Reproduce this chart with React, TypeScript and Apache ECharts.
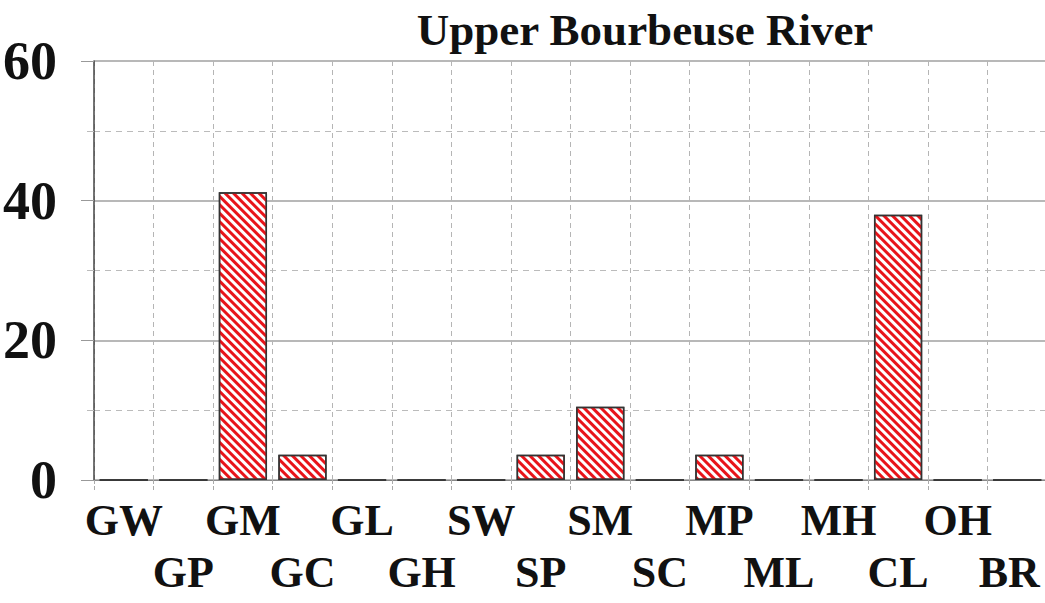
import React, { useEffect, useRef } from "react";
import * as echarts from "echarts";

const titleText = "Upper Bourbeuse River";
const categories = ["GW", "GP", "GM", "GC", "GL", "GH", "SW", "SP", "SM", "SC", "MP", "ML", "MH", "CL", "OH", "BR"];
const values = [0, 0, 41.2, 3.6, 0, 0, 0, 3.6, 10.5, 0, 3.6, 0, 0, 38, 0, 0];
const yTicks = [0, 20, 40, 60];

const FONT = "'Liberation Serif', 'Times New Roman', serif";

export default function App() {
  const ref = useRef<HTMLDivElement>(null);
  useEffect(() => {
    if (!ref.current) return;
    const chart = echarts.init(ref.current, null, { renderer: "svg" });
    const labelStyle = {
      fontFamily: FONT,
      fontWeight: "bold" as const,
      fontSize: 44,
      lineHeight: 52,
      color: "#111",
    };
    chart.setOption({
      animation: false,
      backgroundColor: "#ffffff",
      title: {
        text: titleText,
        left: 640,
        top: 2,
        textAlign: "center",
        textStyle: { fontFamily: FONT, fontWeight: "bold", fontSize: 45, color: "#111" },
      },
      grid: { left: 92, right: 13, top: 61, bottom: 123, containLabel: false },
      xAxis: {
        type: "category",
        data: categories,
        boundaryGap: true,
        axisLine: { show: true, lineStyle: { color: "#888", width: 1 } },
        axisTick: { show: true, length: 12, interval: 0, lineStyle: { color: "#aaa", type: "dashed" } },
        splitLine: { show: true, interval: 0, lineStyle: { color: "#b5b5b5", type: [5, 4] } },
        axisLabel: {
          interval: 0,
          margin: 14,
          ...labelStyle,
          rich: {
            last: { ...labelStyle, padding: [0, 16, 0, 0] },
          },
          formatter: (v: string, i: number) => {
            if (i === categories.length - 1) return (i % 2 === 1 ? "\n" : "") + "{last|" + v + "}";
            return i % 2 === 1 ? "\n" + v : v;
          },
        },
      },
      yAxis: {
        type: "value",
        min: yTicks[0],
        max: yTicks[yTicks.length - 1],
        interval: 20,
        axisLine: { show: true, lineStyle: { color: "#444", width: 1.5 } },
        axisTick: { show: true, length: 13, lineStyle: { color: "#999" } },
        minorTick: { show: true, splitNumber: 2, length: 7, lineStyle: { color: "#bbb" } },
        splitLine: { show: true, lineStyle: { color: "#a0a0a0", width: 1.5 } },
        minorSplitLine: { show: true, lineStyle: { color: "#bbb", type: [6, 5] } },
        axisLabel: {
          margin: 37,
          fontFamily: FONT,
          fontWeight: "bold",
          fontSize: 54,
          color: "#111",
        },
      },
      series: [
        {
          type: "bar",
          data: values,
          barCategoryGap: "19%",
          itemStyle: {
            color: "#ffffff",
            borderColor: "#333",
            borderWidth: 1.5,
            decal: {
              symbol: "rect",
              symbolSize: 1,
              color: "#e8141a",
              dashArrayX: [1, 0],
              dashArrayY: [3, 2.5],
              rotation: Math.PI / 4,
            },
          },
        },
      ],
    });
    return () => chart.dispose();
  }, []);
  return (
    <div style={{ position: "absolute", left: 0, top: 0, width: 1045, height: 603, overflow: "hidden" }}>
      <div ref={ref} style={{ width: 1060, height: 603 }} />
    </div>
  );
}
